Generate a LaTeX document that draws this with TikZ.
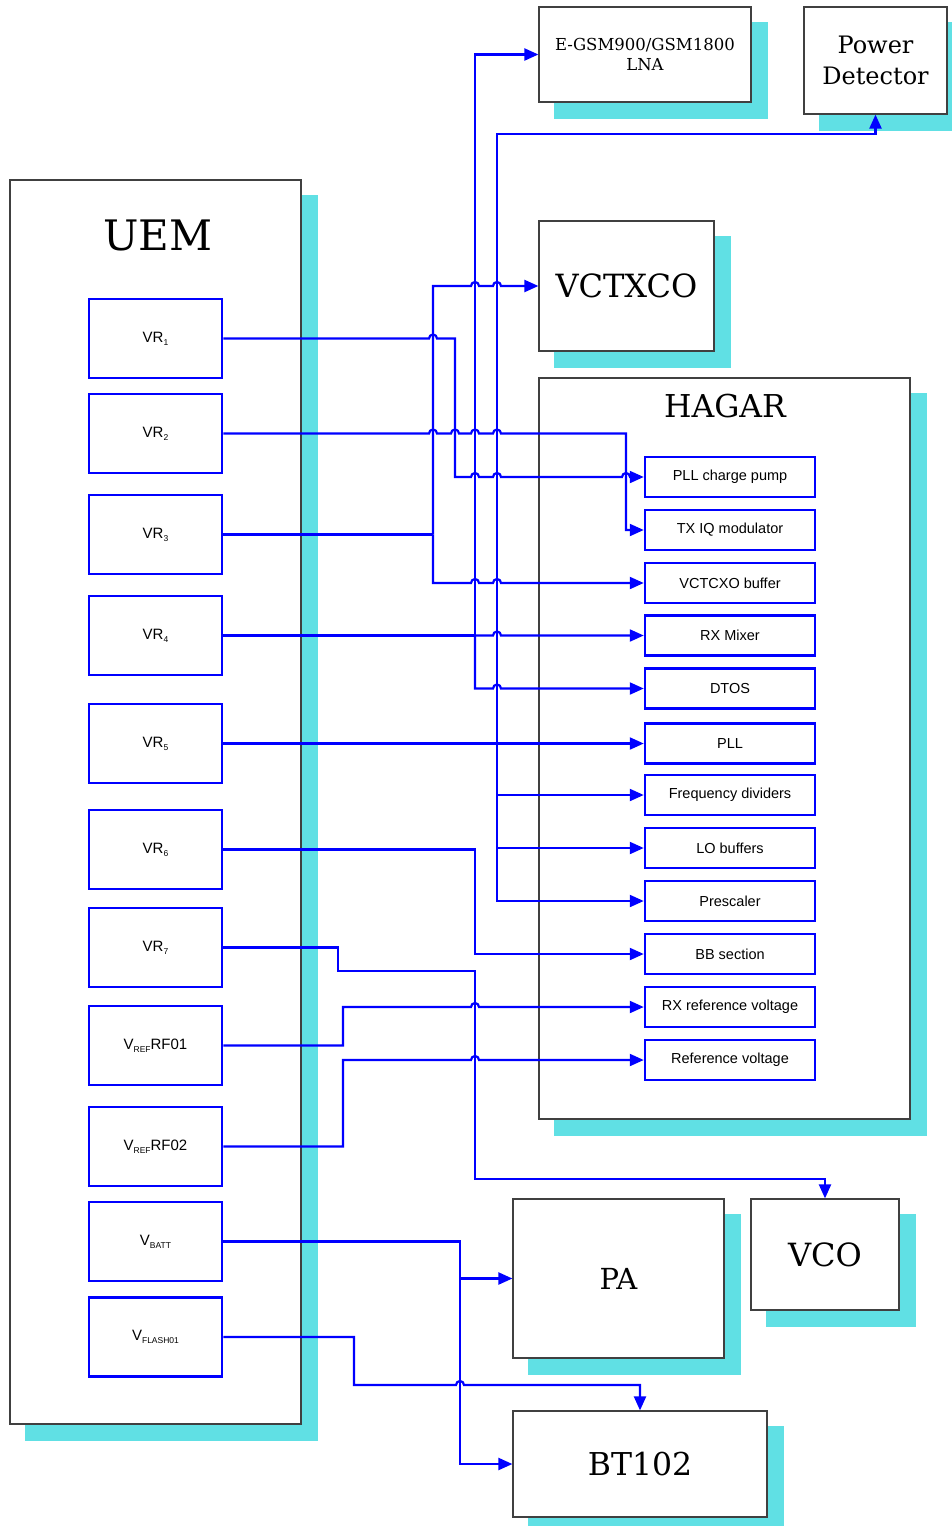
\documentclass[tikz,border=0pt]{standalone}
\usepackage{fontspec}
\setmainfont{DejaVu Serif}
\setsansfont{Liberation Sans}
\usetikzlibrary{arrows.meta,backgrounds}
\definecolor{shad}{RGB}{96,224,228}
\definecolor{wireblue}{RGB}{0,0,255}
\newcommand\sbx[1]{\raisebox{-0.35ex}{\fontsize{8.5}{8.5}\selectfont #1}}
\newcommand\hp[2]{-- (#1-4,#2) arc[start angle=180,end angle=0,radius=4pt]}
\tikzset{
 bigbox/.style={draw=black!75, line width=1.2pt, fill=white, inner sep=0pt},
 vrbox/.style={draw=wireblue, line width=2.5pt, fill=white, minimum width=133pt, minimum height=79pt, inner sep=0pt, font=\sffamily\fontsize{15}{15}\selectfont},
 hbox/.style={draw=wireblue, line width=2.5pt, fill=white, minimum width=170pt, minimum height=40pt, inner sep=0pt, font=\sffamily\fontsize{14.5}{15}\selectfont},
 wire/.style={draw=wireblue, line width=2.2pt, -{Triangle[length=14pt,width=12pt]}},
 plainwire/.style={draw=wireblue, line width=2.2pt},
 shadowbox/.style={fill=shad}
}
\begin{document}
\begin{tikzpicture}[x=1pt,y=-1pt]
\useasboundingbox (0,0) rectangle (951,1526);
% big boxes
\node[bigbox, minimum width=291pt, minimum height=1244pt] (uem) at (155.5,802) {};
\node[bigbox, minimum width=212pt, minimum height=95pt, align=center, font=\fontsize{16.5}{20}\selectfont] (lna) at (645,54.5) {E-GSM900/GSM1800\\LNA};
\node[bigbox, minimum width=143pt, minimum height=107pt, align=center, font=\fontsize{24}{31}\selectfont] (pd) at (875.5,60.5) {Power\\Detector};
\node[bigbox, minimum width=175pt, minimum height=130pt, font=\fontsize{32}{32}\selectfont] (vctxco) at (626.5,286) {VCTXCO};
\node[bigbox, minimum width=371pt, minimum height=741pt] (hagar) at (724.5,748.5) {};
\node[bigbox, minimum width=211pt, minimum height=159pt, font=\fontsize{29}{29}\selectfont] (pa) at (618.5,1278.5) {PA};
\node[bigbox, minimum width=148pt, minimum height=111pt, font=\fontsize{32}{32}\selectfont] (vco) at (825,1254.5) {VCO};
\node[bigbox, minimum width=254pt, minimum height=106pt, font=\fontsize{31.5}{31.5}\selectfont] (bt) at (640,1464) {BT102};
\node[font=\fontsize{42}{42}\selectfont] (uemt) at (158,235) {UEM};
\node[font=\fontsize{31.5}{31.5}\selectfont] (hagart) at (725,406) {HAGAR};
% shadows
\begin{scope}[on background layer]
\foreach \b in {uem,lna,pd,vctxco,hagar,pa,vco,bt}{
  \fill[shadowbox] ([shift={(16pt,-16pt)}]\b.north west) rectangle ([shift={(16pt,-16pt)}]\b.south east);
}
\end{scope}
% UEM sources
\node[vrbox] (vr1) at (155.5,338.5) {VR\sbx{1}};
\node[vrbox] (vr2) at (155.5,433.5) {VR\sbx{2}};
\node[vrbox] (vr3) at (155.5,534.5) {VR\sbx{3}};
\node[vrbox] (vr4) at (155.5,635.5) {VR\sbx{4}};
\node[vrbox] (vr5) at (155.5,743.5) {VR\sbx{5}};
\node[vrbox] (vr6) at (155.5,849.5) {VR\sbx{6}};
\node[vrbox] (vr7) at (155.5,947.5) {VR\sbx{7}};
\node[vrbox] (vref1) at (155.5,1045.5) {V\sbx{REF}RF01};
\node[vrbox] (vref2) at (155.5,1146.5) {V\sbx{REF}RF02};
\node[vrbox] (vbatt) at (155.5,1241.5) {V\sbx{BATT}};
\node[vrbox] (vflash) at (155.5,1337) {V\sbx{FLASH01}};
% HAGAR blocks
\node[hbox] (pcp) at (730,477) {PLL charge pump};
\node[hbox] (txiq) at (730,530) {TX IQ modulator};
\node[hbox] (vcb) at (730,583) {VCTCXO buffer};
\node[hbox] (rxm) at (730,635.5) {RX Mixer};
\node[hbox] (dtos) at (730,688.5) {DTOS};
\node[hbox] (pll) at (730,743.5) {PLL};
\node[hbox] (fd) at (730,795) {Frequency dividers};
\node[hbox] (lob) at (730,848) {LO buffers};
\node[hbox] (pre) at (730,901) {Prescaler};
\node[hbox] (bb) at (730,954) {BB section};
\node[hbox] (rxr) at (730,1007) {RX reference voltage};
\node[hbox] (ref) at (730,1060) {Reference voltage};
% junctions
\coordinate (j3) at (433,534.5);
\coordinate (j4) at (475,635.5);
\coordinate (j5) at (497,743.5);
\coordinate (jb) at (460,1278.5);
% wires
\draw[wire] (vr1.east) \hp{433}{338.5} -- (455,338.5) -- (455,477) \hp{475}{477} \hp{497}{477} \hp{626}{477} -- (pcp.west);
\draw[wire] (vr2.east) \hp{433}{433.5} \hp{455}{433.5} \hp{475}{433.5} \hp{497}{433.5} -- (626,433.5) -- (626,530) -- (txiq.west);
\draw[plainwire] (vr3.east) -- (j3);
\draw[wire] (j3) -- (433,286) \hp{475}{286} \hp{497}{286} -- (vctxco.west);
\draw[wire] (j3) -- (433,583) \hp{475}{583} \hp{497}{583} -- (vcb.west);
\draw[plainwire, line width=2.8pt] (vr4.east) -- (j4);
\draw[wire] (j4) \hp{497}{635.5} -- (rxm.west);
\draw[wire] (j4) -- (475,54.5) -- (lna.west);
\draw[wire] (j4) -- (475,688.5) \hp{497}{688.5} -- (dtos.west);
\draw[plainwire, line width=2.8pt] (vr5.east) -- (j5);
\draw[wire] (j5) -- (pll.west);
\draw[wire] (j5) -- (497,134) -| (pd.south);
\draw[wire] (j5) |- (fd.west);
\draw[wire] (j5) |- (lob.west);
\draw[wire] (j5) |- (pre.west);
\draw[wire] (vr6.east) -- (475,849.5) |- (bb.west);
\draw[wire] (vr7.east) -- (338,947.5) -- (338,971) -- (475,971) -- (475,1179) -| (vco.north);
\draw[wire] (vref1.east) -- (343,1045.5) -- (343,1007) \hp{475}{1007} -- (rxr.west);
\draw[wire] (vref2.east) -- (343,1146.5) -- (343,1060) \hp{475}{1060} -- (ref.west);
\draw[wire] (vbatt.east) -- (460,1241.5) |- (bt.west);
\draw[wire] (jb) -- (pa.west);
\draw[wire] (vflash.east) -- (354,1337) -- (354,1385) \hp{460}{1385} -| (bt.north);
\end{tikzpicture}
\end{document}
